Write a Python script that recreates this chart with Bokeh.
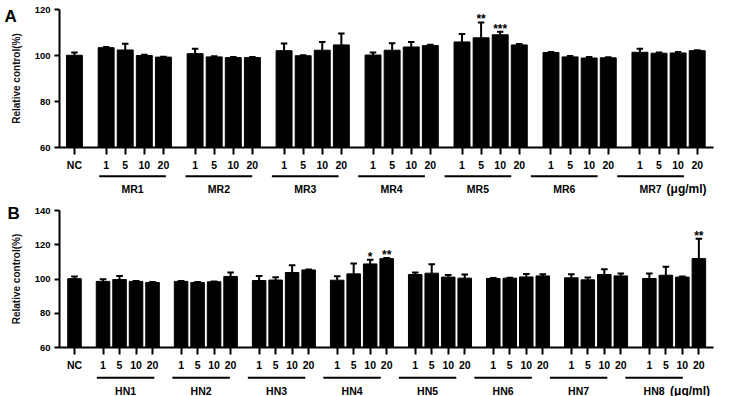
from bokeh.plotting import figure
from bokeh.layouts import column
from bokeh.models import Range1d, FixedTicker, Label
from bokeh.core.properties import value
from bokeh.embed import file_html
from bokeh.resources import INLINE

FONT = "Liberation Sans"

doses = ["1", "5", "10", "20"]

# ---------------- Panel A data ----------------
mr_groups = ["MR1", "MR2", "MR3", "MR4", "MR5", "MR6", "MR7"]
mr_nc_mean = 100.1
mr_nc_err = 1.2
mr_mean = [
    [103.4, 102.4, 100.0, 99.3],   # MR1
    [100.8, 99.4, 99.1, 99.1],     # MR2
    [102.1, 99.9, 102.3, 104.6],   # MR3
    [100.2, 102.3, 103.7, 104.3],  # MR4
    [105.9, 107.7, 109.0, 104.6],  # MR5
    [101.3, 99.4, 98.9, 99.0],     # MR6
    [101.4, 101.0, 101.1, 102.1],  # MR7
]
mr_err = [
    [0.3, 2.7, 0.3, 0.2],
    [2.1, 0.3, 0.3, 0.3],
    [3.1, 0.2, 3.6, 5.0],
    [1.1, 3.0, 2.2, 0.4],
    [3.4, 6.7, 1.3, 0.4],
    [0.2, 0.4, 0.5, 0.2],
    [1.5, 0.3, 0.4, 0.2],
]
mr_sig_group = ["MR5", "MR5"]
mr_sig_dose = ["5", "10"]
mr_sig_mark = ["**", "***"]
mr_yticks = [60, 80, 100, 120]

# ---------------- Panel B data ----------------
hn_groups = ["HN1", "HN2", "HN3", "HN4", "HN5", "HN6", "HN7", "HN8"]
hn_nc_mean = 100.2
hn_nc_err = 1.2
hn_mean = [
    [98.6, 99.7, 98.6, 98.0],      # HN1
    [98.6, 98.0, 98.4, 101.5],     # HN2
    [99.1, 99.4, 103.8, 105.3],    # HN3
    [99.3, 103.0, 108.8, 111.9],   # HN4
    [102.6, 103.4, 101.1, 100.5],  # HN5
    [100.3, 100.5, 101.2, 101.8],  # HN6
    [100.7, 99.5, 102.6, 101.8],   # HN7
    [100.3, 102.2, 101.1, 111.9],  # HN8
]
hn_err = [
    [1.3, 2.0, 0.3, 0.2],
    [0.3, 0.3, 0.2, 2.3],
    [2.7, 1.6, 4.2, 0.3],
    [2.3, 6.0, 2.5, 0.3],
    [1.2, 5.2, 1.2, 2.1],
    [0.3, 0.3, 1.7, 1.0],
    [2.1, 1.4, 3.1, 1.4],
    [2.9, 5.0, 0.3, 11.6],
]
hn_sig_group = ["HN4", "HN4", "HN8"]
hn_sig_dose = ["10", "20", "20"]
hn_sig_mark = ["*", "**", "**"]
hn_yticks = [60, 80, 100, 120, 140]

unit_text = "(\u03bcg/ml)"
ylabel = "Relative control(%)"


def build(letter, groups, nc_mean, nc_err, means, errs, sig_g, sig_d, sig_m,
          yticks, geo):
    SLOT = 100
    gap = geo["gap"]
    xs, labels, tops, es = [0], ["NC"], [nc_mean], [nc_err]
    centers, firsts, lasts = [], [], []
    pos = {}
    for g, name in enumerate(groups):
        start = gap + g * (3 * SLOT + gap)
        for i, d in enumerate(doses):
            x = start + i * SLOT
            xs.append(x)
            labels.append(d)
            tops.append(means[g][i])
            es.append(errs[g][i])
            pos[(name, d)] = (x, means[g][i] + errs[g][i])
        centers.append(start + 1.5 * SLOT)
        firsts.append(start - 30)
        lasts.append(start + 3 * SLOT + 30)
    ends = [t + e for t, e in zip(tops, es)]
    cap = geo["cap"]

    p = figure(width=735, height=geo["h"],
               x_range=Range1d(geo["x0"], geo["x1"]),
               y_range=Range1d(yticks[0], yticks[-1]),
               output_backend="svg", toolbar_location=None,
               min_border_left=59, min_border_right=geo["right"],
               min_border_top=geo["top"], min_border_bottom=geo["bottom"],
               background_fill_color="white", border_fill_color="white")
    p.outline_line_color = None
    p.xgrid.visible = False
    p.ygrid.visible = False

    p.vbar(x=xs, top=tops, bottom=yticks[0], width=geo["bw"],
           fill_color="black", line_color="black")
    p.segment(x0=xs, y0=tops, x1=xs, y1=ends, line_color="black", line_width=2)
    p.segment(x0=[x - cap for x in xs], y0=ends, x1=[x + cap for x in xs],
              y1=ends, line_color="black", line_width=2)

    sx = [pos[(g, d)][0] for g, d in zip(sig_g, sig_d)]
    sy = [pos[(g, d)][1] for g, d in zip(sig_g, sig_d)]
    p.text(x=sx, y=sy, text=sig_m, text_font=value(FONT),
           text_font_style="bold", text_font_size="12px", text_color="black",
           text_align="center", text_baseline="alphabetic", y_offset=-3)

    # x axis
    xa = p.xaxis[0]
    xa.ticker = FixedTicker(ticks=xs)
    xa.major_label_overrides = {x: lab for x, lab in zip(xs, labels)}
    xa.axis_line_width = 2
    xa.axis_line_color = "black"
    xa.major_tick_line_width = 2
    xa.major_tick_line_color = "black"
    xa.major_tick_out = 7
    xa.major_tick_in = 0
    xa.minor_tick_out = 0
    xa.minor_tick_in = 0
    xa.major_label_standoff = 4
    xa.major_label_text_font = FONT
    xa.major_label_text_font_style = "bold"
    xa.major_label_text_font_size = "10.5px"
    xa.major_label_text_color = "black"

    # y axis
    ya = p.yaxis[0]
    ya.ticker = FixedTicker(ticks=yticks)
    ya.axis_line_width = 2
    ya.axis_line_color = "black"
    ya.major_tick_line_width = 2
    ya.major_tick_line_color = "black"
    ya.major_tick_out = 5
    ya.major_tick_in = 0
    ya.minor_tick_out = 0
    ya.minor_tick_in = 0
    ya.major_label_standoff = 4
    ya.major_label_text_font = FONT
    ya.major_label_text_font_style = "bold"
    ya.major_label_text_font_size = "9.5px"
    ya.major_label_text_color = "black"
    ya.axis_label = ylabel
    ya.axis_label_text_font = FONT
    ya.axis_label_text_font_style = "bold"
    ya.axis_label_text_font_size = "10px"
    ya.axis_label_text_color = "#111111"
    ya.axis_label_standoff = 10

    # panel letter, placed in the right side panel so it is not clipped
    # and does not widen the left border
    p.add_layout(Label(x=geo["lx"], y=geo["ly"], x_units="screen",
                       y_units="screen", text=letter, text_font=FONT,
                       text_font_style="bold", text_font_size="17px",
                       text_color="black", text_baseline="alphabetic"),
                 "right")

    # group underlines and names
    gh = geo["gh"]
    ppu = (735 - 59 - geo["right"]) / (geo["x1"] - geo["x0"])
    gx1 = geo["x0"] + (735 - 59) / ppu
    gf = figure(width=735, height=gh, x_range=Range1d(geo["x0"], gx1),
                y_range=Range1d(gh, 0), output_backend="svg",
                toolbar_location=None, x_axis_type=None, y_axis_type=None,
                min_border=0, min_border_left=59, min_border_right=0,
                background_fill_color="white", border_fill_color="white")
    gf.outline_line_color = None
    gf.segment(x0=firsts, y0=[geo["uy"]] * len(groups), x1=lasts,
               y1=[geo["uy"]] * len(groups), line_color="black", line_width=2)
    gf.text(x=centers, y=[geo["ty"]] * len(groups), text=groups,
            text_font=value(FONT), text_font_style="bold",
            text_font_size="10.5px", text_color="black",
            text_align="center", text_baseline="alphabetic")
    gf.text(x=[centers[-1]], y=[geo["ty"]], text=[unit_text],
            text_font=value(FONT), text_font_style="bold",
            text_font_size="12px", text_color="black",
            text_align="left", text_baseline="alphabetic", x_offset=16)
    return p, gf


geo_a = dict(gap=166, x0=-78.3, x1=3347.3, bw=83.5, cap=17, h=173, top=9,
             bottom=24, right=20, gh=25, uy=2.7, ty=15.5, lx=-709, ly=131)
geo_b = dict(gap=173, x0=-90.9, x1=3872.7, bw=82, cap=20, h=175, top=12,
             bottom=25, right=22, gh=23, uy=4.3, ty=17.0, lx=-706, ly=134)

pa, ga = build("A", mr_groups, mr_nc_mean, mr_nc_err, mr_mean, mr_err,
               mr_sig_group, mr_sig_dose, mr_sig_mark, mr_yticks, geo_a)
pb, gb = build("B", hn_groups, hn_nc_mean, hn_nc_err, hn_mean, hn_err,
               hn_sig_group, hn_sig_dose, hn_sig_mark, hn_yticks, geo_b)

layout = column(pa, ga, pb, gb, spacing=0)
open("out.html", "w").write(file_html(layout, INLINE))
